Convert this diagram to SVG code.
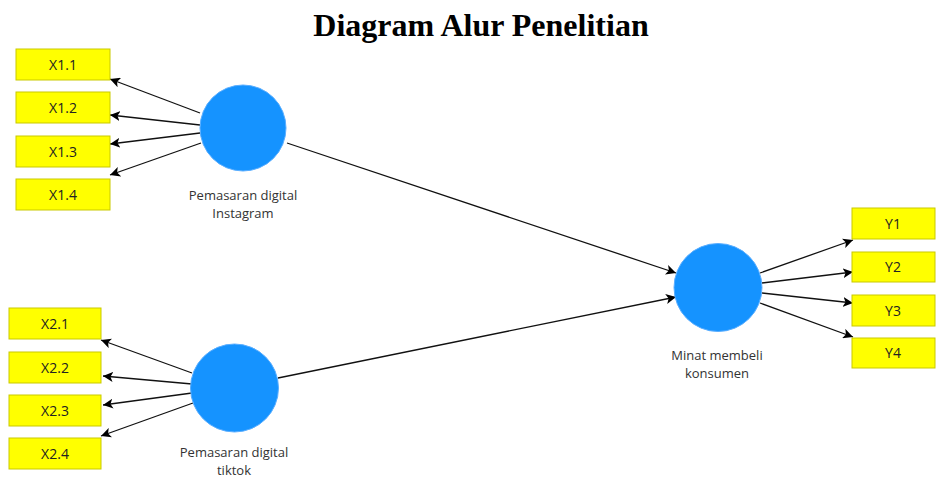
<svg xmlns="http://www.w3.org/2000/svg" width="937" height="478" viewBox="0 0 937 478">
<defs>
<style>
.box{fill:#ffff00;stroke:#c9c900;stroke-width:1}
.bt{font-family:"Open Sans","Noto Sans",sans-serif;font-size:14px;fill:#222;text-anchor:middle}
.lv{fill:#1593ff;stroke:#5aaeff;stroke-width:1}
.lt{font-family:"Open Sans","Noto Sans",sans-serif;font-size:13px;fill:#333;text-anchor:middle}
.c{stroke:#111;stroke-width:1.3;fill:none;marker-end:url(#ah)}
</style>
<marker id="ah" viewBox="0 0 10 10" refX="10" refY="5" markerWidth="10" markerHeight="10" markerUnits="userSpaceOnUse" orient="auto">
<path d="M0,0 L10,5 L0,10 L2.5,5 z" fill="#000"/>
</marker>
</defs>
<rect width="937" height="478" fill="#fff"/>
<text x="481" y="36" font-family="Liberation Serif,serif" font-weight="bold" font-size="32" text-anchor="middle" fill="#000">Diagram Alur Penelitian</text>
<g id="connectors">
<line class="c" x1="200" y1="113" x2="110" y2="79"/>
<line class="c" x1="200" y1="125" x2="110" y2="115"/>
<line class="c" x1="200" y1="133" x2="110" y2="144"/>
<line class="c" x1="201" y1="143" x2="110" y2="175"/>
<line class="c" x1="192" y1="373" x2="101" y2="340"/>
<line class="c" x1="192" y1="384" x2="103" y2="376"/>
<line class="c" x1="192" y1="393" x2="103" y2="405"/>
<line class="c" x1="193" y1="403" x2="101" y2="436"/>
<line class="c" x1="287" y1="143" x2="676" y2="273"/>
<line class="c" x1="278" y1="378" x2="676" y2="297"/>
<line class="c" x1="760" y1="273" x2="853" y2="240"/>
<line class="c" x1="762" y1="283" x2="853" y2="272"/>
<line class="c" x1="762" y1="293" x2="853" y2="303"/>
<line class="c" x1="760" y1="303" x2="853" y2="337"/>
</g>
<g id="X1.1"><rect class="box" x="16" y="49" width="94" height="31"/><text class="bt" x="63" y="70">X1.1</text></g>
<g id="X1.2"><rect class="box" x="16" y="92" width="94" height="31"/><text class="bt" x="63" y="113">X1.2</text></g>
<g id="X1.3"><rect class="box" x="16" y="136" width="94" height="31"/><text class="bt" x="63" y="157">X1.3</text></g>
<g id="X1.4"><rect class="box" x="16" y="179" width="94" height="31"/><text class="bt" x="63" y="200">X1.4</text></g>
<g id="X2.1"><rect class="box" x="9" y="308" width="92" height="31"/><text class="bt" x="55" y="329">X2.1</text></g>
<g id="X2.2"><rect class="box" x="9" y="352" width="92" height="31"/><text class="bt" x="55" y="373">X2.2</text></g>
<g id="X2.3"><rect class="box" x="9" y="395" width="92" height="31"/><text class="bt" x="55" y="416">X2.3</text></g>
<g id="X2.4"><rect class="box" x="9" y="438" width="92" height="31"/><text class="bt" x="55" y="459">X2.4</text></g>
<g id="Y1"><rect class="box" x="852" y="208" width="83" height="31"/><text class="bt" x="893" y="229">Y1</text></g>
<g id="Y2"><rect class="box" x="852" y="252" width="83" height="30"/><text class="bt" x="893" y="272">Y2</text></g>
<g id="Y3"><rect class="box" x="852" y="295" width="83" height="31"/><text class="bt" x="893" y="316">Y3</text></g>
<g id="Y4"><rect class="box" x="852" y="338" width="83" height="30"/><text class="bt" x="893" y="358">Y4</text></g>
<g id="instagram"><circle class="lv" cx="243" cy="128" r="43"/><text class="lt" x="243" y="200">Pemasaran digital</text><text class="lt" x="243" y="218">Instagram</text></g>
<g id="tiktok"><circle class="lv" cx="234.5" cy="388" r="44"/><text class="lt" x="234" y="457">Pemasaran digital</text><text class="lt" x="234" y="475">tiktok</text></g>
<g id="minat"><circle class="lv" cx="718" cy="287.5" r="44"/><text class="lt" x="717" y="360">Minat membeli</text><text class="lt" x="717" y="378">konsumen</text></g>
</svg>
